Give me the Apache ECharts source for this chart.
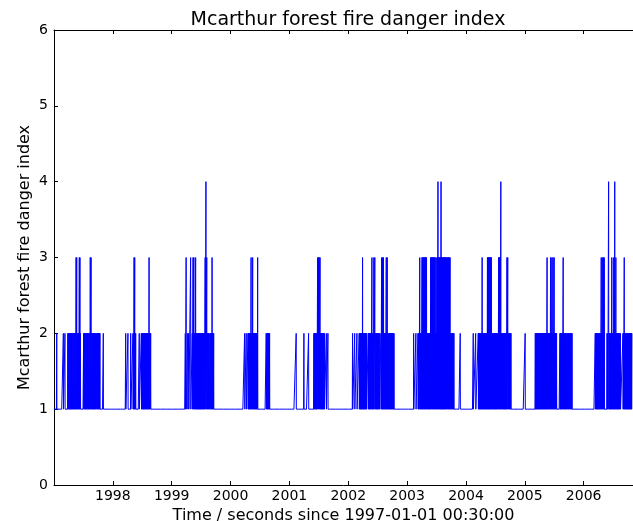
<!DOCTYPE html>
<html>
<head>
<meta charset="utf-8">
<script src="https://cdn.jsdelivr.net/npm/echarts@6/dist/echarts.min.js"></script>
<style>
html,body{margin:0;padding:0;background:#fff;}
#chart{width:633px;height:521px;}
</style>
</head>
<body>
<div id="chart"></div>
<script>
// Daily record, day 0 = 1997-01-01; baseline index value is 1
const startYear = 1997;
const totalDays = 3587;
const baseLevel = 1;
const yearTicks = ['1998','1999','2000','2001','2002','2003','2004','2005','2006'];
const yTicks = [0,1,2,3,4,5,6];

// days (since 1997-01-01) on which the index reached 2
const level2Days = [
  // 1997
  17, 58, 68, 86, 89, 92, 95, 98, 101, 104, 107, 110, 113, 116, 119, 122, 125, 128, 131, 134, 144, 147, 150, 153, 164,
  184, 187, 190, 193, 196, 199, 202, 205, 208, 211, 214, 217, 220, 223, 234, 237, 240, 243, 246, 249, 252, 255, 258, 264, 267, 270, 273, 276, 279, 282, 285, 306,
  // 1998
  445, 459, 476, 490, 493, 504, 507, 529, 542, 545, 548, 551, 554, 557, 560, 563, 566, 569, 572, 575, 578, 581, 584, 587, 594, 597, 600,
  // 1999
  815, 830, 836, 858, 872, 875, 882, 885, 888, 891, 894, 897, 900, 903, 906, 909, 912, 915, 918, 921, 924, 927, 930, 933,
  951, 954, 957, 960, 963, 970, 973, 976, 979, 985, 988, 991,
  // 2000
  1183, 1193, 1204, 1207, 1210, 1213, 1216, 1219, 1226, 1229, 1237, 1240, 1243, 1246, 1249, 1252, 1255, 1258, 1261,
  1317, 1320, 1323, 1326, 1329, 1332, 1335, 1338,
  // 2001
  1503, 1551, 1580, 1613, 1616, 1619, 1622, 1625, 1628, 1631, 1654, 1657, 1660, 1663, 1666, 1669, 1672, 1675, 1678, 1690, 1700,
  // 2002
  1853, 1866, 1880, 1894, 1897, 1900, 1903, 1906, 1909, 1912, 1918, 1921, 1924, 1927, 1930, 1933, 1936, 1939,
  1950, 1953, 1956, 1959, 1962, 1965, 1968, 1976, 1979, 1982, 1995, 1998, 2001, 2004, 2007, 2010, 2013, 2016, 2019,
  2029, 2036, 2042, 2048, 2051, 2054, 2057, 2065, 2071, 2074, 2077, 2080, 2083, 2086, 2089, 2092, 2095, 2098, 2101, 2104, 2107, 2110,
  // 2003
  2232, 2246, 2259, 2262, 2265, 2274, 2277, 2280, 2316, 2319, 2322, 2325, 2328, 2331, 2334, 2370, 2373,
  2461, 2464, 2467, 2470, 2473, 2476, 2479, 2482, 2521,
  // 2004
  2602, 2617, 2633, 2636, 2639, 2642, 2645, 2648, 2651, 2654, 2660, 2663, 2666, 2669, 2672, 2675, 2678, 2681, 2684, 2687,
  2719, 2722, 2725, 2728, 2731, 2734, 2737, 2740, 2743, 2746, 2749, 2752, 2755,
  2778, 2781, 2784, 2787, 2790, 2793, 2796, 2799, 2802, 2805, 2808, 2820, 2823, 2827, 2830, 2833, 2836, 2924,
  // 2005
  2987, 2990, 2993, 2996, 2999, 3002, 3005, 3008, 3011, 3014, 3017, 3020, 3023, 3026, 3029, 3032, 3035, 3038, 3041, 3044, 3047, 3050, 3053, 3056,
  3063, 3066, 3069, 3072, 3075, 3078, 3086, 3093, 3100, 3107, 3110, 3113, 3116, 3119,
  3140, 3143, 3146, 3149, 3152, 3155, 3164, 3167, 3170, 3173, 3176, 3179, 3185, 3188, 3191, 3194, 3200, 3203, 3206, 3209, 3212, 3215,
  // 2006
  3359, 3362, 3365, 3368, 3371, 3374, 3377, 3380, 3383, 3386, 3389, 3392, 3399, 3406, 3413, 3432, 3436,
  3446, 3449, 3452, 3455, 3458, 3465, 3468, 3471, 3477, 3484, 3491, 3494, 3497, 3500, 3503, 3506, 3509, 3512, 3515,
  3531, 3534, 3542, 3545, 3548, 3551, 3554, 3557, 3560, 3563, 3566, 3569, 3572, 3575, 3578, 3581, 3584, 3587
];
// days on which the index reached 3
const level3Days = [
  137, 141, 157, 161, 225, 230,
  497, 501, 590,
  820, 848, 863, 868, 879, 938, 948, 981,
  1223, 1233, 1264,
  1636, 1641, 1646, 1651,
  1915, 1973, 1985, 1991, 2033, 2039, 2045, 2062, 2068,
  2270, 2284, 2287, 2291, 2294, 2298, 2301, 2305, 2308, 2312, 2338, 2341, 2345, 2348, 2352, 2355, 2359, 2362, 2366,
  2376, 2379, 2387, 2390, 2393, 2396, 2399, 2405, 2408, 2411, 2414, 2417, 2420, 2423, 2426, 2429, 2432, 2435, 2440, 2444, 2447, 2450, 2454, 2458,
  2657, 2690, 2693, 2696, 2699, 2702, 2705, 2708, 2711, 2714, 2760, 2763, 2766, 2769, 2811, 2816,
  3060, 3082, 3090, 3097, 3104, 3160,
  3396, 3403, 3410, 3415, 3462, 3474, 3487, 3539
];
// days on which the index reached 4
const level4Days = [943, 2383, 2402, 2773, 3442, 3480];

const values = new Array(totalDays + 1).fill(baseLevel);
level2Days.forEach(d => { values[d] = 2; });
level3Days.forEach(d => { values[d] = 3; });
level4Days.forEach(d => { values[d] = 4; });
const seriesData = values.map((v, i) => [startYear + i / 365.25, v]);

const xMin = startYear;
const xMax = 2006.838;

const chart = echarts.init(document.getElementById('chart'), null, {renderer: 'canvas'});
const font = 'DejaVu Sans';
const axisBase = {
  type: 'value', min: xMin, max: xMax, interval: 1,
  axisLine: {show: true, lineStyle: {color: '#000', width: 1}},
  axisTick: {show: true, inside: true, length: 4, lineStyle: {color: '#000'}},
  splitLine: {show: false}
};
chart.setOption({
  animation: false,
  backgroundColor: '#fff',
  title: {
    text: 'Mcarthur forest fire danger index',
    left: 343, top: 6, textAlign: 'center',
    textStyle: {fontFamily: font, fontSize: 19, fontWeight: 'normal', color: '#000'}
  },
  graphic: [{
    type: 'text',
    x: 25, y: 257.5,
    rotation: Math.PI / 2,
    style: {
      text: 'Mcarthur forest fire danger index',
      fontFamily: font, fontSize: 16, fill: '#000',
      align: 'center', verticalAlign: 'middle'
    }
  }],
  grid: {left: 54, right: 0, top: 30, bottom: 36, containLabel: false, outerBoundsMode: 'none'},
  xAxis: [
    Object.assign({}, axisBase, {
      position: 'bottom',
      name: 'Time / seconds since 1997-01-01 00:30:00',
      nameLocation: 'middle', nameGap: 20,
      nameTextStyle: {fontFamily: font, fontSize: 16, color: '#000', verticalAlign: 'top'},
      axisLabel: {
        show: true, margin: 4, showMinLabel: false, showMaxLabel: false,
        fontFamily: font, fontSize: 14, color: '#000',
        formatter: v => {
          const s = String(Math.round(v));
          return Math.abs(v - Math.round(v)) < 1e-6 && yearTicks.includes(s) ? s : '';
        }
      }
    }),
    Object.assign({}, axisBase, {
      position: 'top',
      axisLabel: {show: false}
    })
  ],
  yAxis: [{
    type: 'value', min: yTicks[0], max: yTicks[yTicks.length - 1], interval: 1,
    position: 'left',
    axisLine: {show: true, lineStyle: {color: '#000', width: 1}},
    axisTick: {show: true, inside: true, length: 4, lineStyle: {color: '#000'}},
    axisLabel: {show: true, margin: 6, fontFamily: font, fontSize: 14, color: '#000'},
    splitLine: {show: false}
  }],
  series: [{
    type: 'line',
    xAxisIndex: 0, yAxisIndex: 0,
    data: seriesData,
    showSymbol: false,
    symbol: 'none',
    sampling: null,
    lineStyle: {color: '#0000ff', width: 1},
    itemStyle: {color: '#0000ff'},
    emphasis: {disabled: true}
  }]
});
</script>
</body>
</html>
